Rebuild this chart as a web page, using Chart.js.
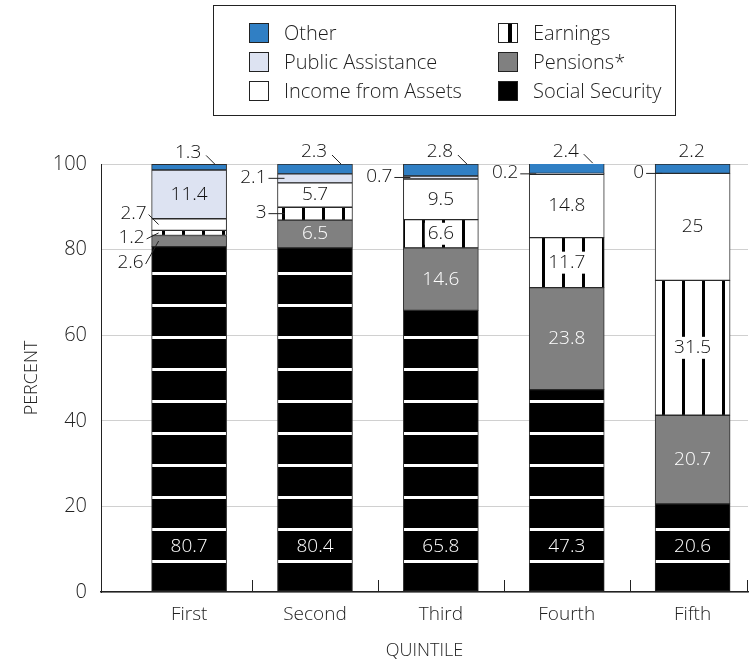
<!DOCTYPE html>
<html>
<head>
<meta charset="utf-8">
<title>Income sources by quintile</title>
<script src="https://cdn.jsdelivr.net/npm/chart.js@4.4.1/dist/chart.umd.min.js"></script>
<style>
  html, body { margin: 0; padding: 0; background: #fff; }
  #wrap { position: relative; width: 749px; height: 664px; }
  #legend {
    position: absolute; left: 213px; top: 5px; width: 461px; height: 109px;
    border: 1px solid #222; font-family: "Open Sans", sans-serif; font-weight: 300; font-size: 20px; color: #1e1e1e;
  }
  .item { position: absolute; height: 20px; white-space: nowrap; }
  .sw { position: absolute; left: 0; top: 0; width: 18px; height: 18px; border: 1px solid #222; }
  .txt { position: absolute; left: 35px; top: -4px; line-height: 28px; }
</style>
</head>
<body>
<div id="wrap">
  <canvas id="chart" width="749" height="664"></canvas>
  <div id="legend"></div>
</div>
<script>
// values, percent of income
const quintiles = ['First', 'Second', 'Third', 'Fourth', 'Fifth'];
const socialSecurity = [80.7, 80.4, 65.8, 47.3, 20.6];
const pensions = [2.6, 6.5, 14.6, 23.8, 20.7];
const earnings = [1.2, 3, 6.6, 11.7, 31.5];
const assetIncome = [2.7, 5.7, 9.5, 14.8, 25];
const publicAssistance = [11.4, 2.1, 0.7, 0.2, 0];
const other = [1.3, 2.3, 2.8, 2.4, 2.2];
const yTicks = [0, 20, 40, 60, 80, 100];

const FONT = '"Open Sans", sans-serif';
const INK = '#222';

function tilePattern(w, h, bg, fg, rect) {
    const c = document.createElement('canvas');
    c.width = w; c.height = h;
    const g = c.getContext('2d');
    g.fillStyle = bg; g.fillRect(0, 0, w, h);
    g.fillStyle = fg; g.fillRect(rect[0], rect[1], rect[2], rect[3]);
    return g.createPattern(c, 'repeat');
}

// black with white horizontal rules / white with black vertical rules
const ssFill = tilePattern(8, 32, '#000', '#fff', [0, 16, 8, 3]);
const earnFill = tilePattern(20, 8, '#fff', '#000', [2, 0, 3, 8]);

const series = [
    { label: 'Social Security', values: socialSecurity, fill: ssFill, swatch: '#000', text: '#fff' },
    { label: 'Pensions*', values: pensions, fill: '#808080', swatch: '#808080', text: '#fff' },
    { label: 'Earnings', values: earnings, fill: earnFill,
      swatch: 'linear-gradient(to right, #fff 9px, #000 9px, #000 13px, #fff 13px)', text: '#111', box: true },
    { label: 'Income from Assets', values: assetIncome, fill: '#fff', swatch: '#fff', text: '#111' },
    { label: 'Public Assistance', values: publicAssistance, fill: '#dde3f2', swatch: '#dde3f2', text: '#111' },
    { label: 'Other', values: other, fill: '#307fc4', swatch: '#307fc4', text: '#111' }
];

// hand placement for the crowded small segments of the first bar
const nudges = { '3-0': { dy: -11, gap: 5 }, '2-0': { dy: 5, gap: 7 }, '1-0': { dy: 22, gap: 8 } };

const boundaryTicks = {
    id: 'boundaryTicks',
    afterDatasetsDraw(chart) {
        const { ctx, chartArea, scales: { x } } = chart;
        const edges = quintiles.slice(1).map((q, i) => x.getPixelForValue(i + 1.5));
        edges.push(chartArea.right - 1);
        ctx.save();
        ctx.strokeStyle = INK;
        ctx.lineWidth = 1;
        edges.forEach(px => {
            const xx = Math.round(px) + 0.5;
            ctx.beginPath();
            ctx.moveTo(xx, chartArea.bottom);
            ctx.lineTo(xx, chartArea.bottom - 12);
            ctx.stroke();
        });
        ctx.restore();
    }
};

function leader(ctx, x1, y1, x2, y2) {
    ctx.beginPath();
    ctx.moveTo(x1, y1);
    ctx.lineTo(x2, y2);
    ctx.stroke();
}

const valueLabels = {
    id: 'valueLabels',
    afterDatasetsDraw(chart) {
        const { ctx, chartArea } = chart;
        ctx.save();
        ctx.font = '300 19px ' + FONT;
        ctx.textBaseline = 'middle';
        ctx.strokeStyle = INK;
        ctx.lineWidth = 1;
        chart.data.datasets.forEach((ds, di) => {
            const s = series[di];
            chart.getDatasetMeta(di).data.forEach((bar, i) => {
                const text = String(s.values[i]);
                const { x, y, base, width } = bar.getProps(['x', 'y', 'base', 'width'], true);
                const left = x - width / 2;
                const h = base - y;
                const mid = (y + base) / 2;
                if (di === 0) {
                    ctx.fillStyle = s.text;
                    ctx.textAlign = 'center';
                    ctx.fillText(text, x, chartArea.bottom - 45);
                } else if (di === series.length - 1) {
                    ctx.fillStyle = '#111';
                    ctx.textAlign = 'center';
                    ctx.fillText(text, x - 1, y - 12);
                    if (i < quintiles.length - 1) leader(ctx, x + 17, y - 9, x + 26, y);
                } else if (h >= 20) {
                    ctx.textAlign = 'center';
                    if (s.box) {
                        const tw = ctx.measureText(text).width;
                        ctx.fillStyle = '#fff';
                        ctx.fillRect(x - tw / 2 - 3, mid - 11, tw + 6, 22);
                    }
                    ctx.fillStyle = s.text;
                    ctx.fillText(text, x, mid);
                } else {
                    const n = nudges[di + '-' + i] || { dy: -1, gap: 11 };
                    const ty = mid + n.dy;
                    const tx = left - n.gap;
                    ctx.fillStyle = '#111';
                    ctx.textAlign = 'right';
                    ctx.fillText(text, tx, ty);
                    leader(ctx, tx + 2, ty + 1, left + 7, mid);
                }
            });
        });
        ctx.restore();
    }
};

const ctx = document.getElementById('chart').getContext('2d');
const chart = new Chart(ctx, {
    type: 'bar',
    data: {
        datasets: series.map(s => ({
            label: s.label,
            data: s.values.map((v, i) => ({ x: i + 1, y: v })),
            backgroundColor: s.fill,
            borderColor: '#2a2a2a',
            borderWidth: 1,
            borderSkipped: false,
            barThickness: 75
        }))
    },
    options: {
        responsive: false,
        animation: false,
        layout: { padding: { top: 164, right: 1, left: 0, bottom: 0 } },
        plugins: { legend: { display: false }, tooltip: { enabled: false } },
        scales: {
            x: {
                type: 'linear',
                stacked: true,
                offset: false,
                bounds: 'data',
                min: 0.3,
                max: 5.44,
                afterBuildTicks: sc => { sc.ticks = quintiles.map((q, i) => ({ value: i + 1 })); },
                afterFit: sc => { sc.height = 72; },
                grid: { display: false, drawTicks: false, offset: false },
                border: { display: true, color: INK, width: 1.5 },
                ticks: {
                    padding: 11, color: INK, autoSkip: false, maxRotation: 0,
                    font: { family: FONT, size: 19, weight: 300 },
                    callback: v => quintiles[v - 1]
                },
                title: {
                    display: true, text: 'QUINTILE', color: INK,
                    font: { family: FONT, size: 18, weight: 300 }, padding: { top: 0, bottom: 2 }
                }
            },
            y: {
                stacked: true,
                min: 0,
                max: 100,
                afterBuildTicks: sc => { sc.ticks = yTicks.map(v => ({ value: v })); },
                afterFit: sc => { sc.width = 101; },
                grid: { color: '#d0d0d0', drawTicks: false },
                border: { display: true, color: INK, width: 1 },
                ticks: { padding: 14, color: INK, font: { family: FONT, size: 20, weight: 300 } },
                title: {
                    display: true, text: 'PERCENT', color: INK,
                    font: { family: FONT, size: 18, weight: 300 }, padding: { top: 21, bottom: 0 }
                }
            }
        }
    },
    plugins: [boundaryTicks, valueLabels]
});

// boxed legend, two columns of three, built from the chart's datasets
const legendEl = document.getElementById('legend');
const order = [5, 4, 3, 2, 1, 0];
order.forEach((di, k) => {
    const col = Math.floor(k / 3), row = k % 3;
    const item = document.createElement('div');
    item.className = 'item';
    item.style.left = (35 + col * 249) + 'px';
    item.style.top = (17 + row * 29) + 'px';
    const sw = document.createElement('div');
    sw.className = 'sw';
    sw.style.background = series[di].swatch;
    const txt = document.createElement('span');
    txt.className = 'txt';
    txt.textContent = chart.data.datasets[di].label;
    item.appendChild(sw);
    item.appendChild(txt);
    legendEl.appendChild(item);
});
</script>
</body>
</html>
